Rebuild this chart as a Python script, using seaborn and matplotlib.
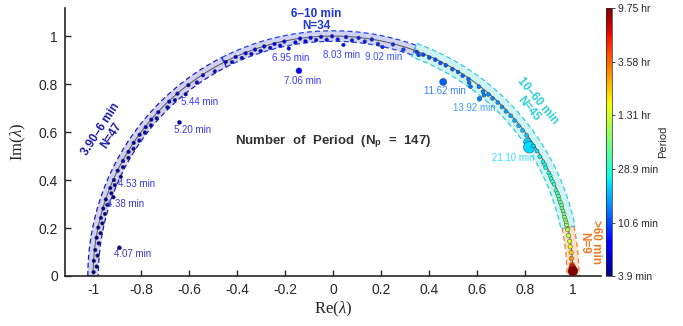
import numpy as np
import pandas as pd
import matplotlib
matplotlib.use("Agg")
import matplotlib.pyplot as plt
from matplotlib.colors import LogNorm
from matplotlib.cm import ScalarMappable
import seaborn as sns

# sampling step in minutes: angle of eigenvalue = 2*pi*dt/T
dt = 1.95

# periods (min) and |lambda|, one pair of lists per group
g1_period = [3.92, 3.95, 3.98, 4.01, 4.04, 4.07, 4.08, 4.11, 4.14, 4.17,
             4.20, 4.23, 4.26, 4.29, 4.32, 4.35, 4.38, 4.40, 4.43, 4.46,
             4.49, 4.53, 4.56, 4.60, 4.64, 4.68, 4.72, 4.76, 4.80, 4.84,
             4.88, 4.92, 4.96, 5.00, 5.04, 5.08, 5.13, 5.20, 5.22, 5.27,
             5.32, 5.38, 5.44, 5.52, 5.61, 5.71, 5.85]
g1_mag = [0.998, 0.986, 0.999, 0.985, 0.997, 0.898, 0.986, 0.998, 0.985, 0.999,
          0.986, 0.997, 0.985, 0.998, 0.986, 0.999, 0.972, 0.986, 0.998, 0.985,
          0.997, 0.976, 0.999, 0.986, 0.998, 0.985, 0.997, 0.986, 0.999, 0.985,
          0.998, 0.986, 0.997, 0.985, 0.999, 0.986, 0.998, 0.905, 0.985, 0.997,
          0.986, 0.999, 0.975, 0.998, 0.986, 0.997, 0.985]

g2_period = [6.02, 6.09, 6.16, 6.23, 6.30, 6.37, 6.44, 6.51, 6.58, 6.66,
             6.74, 6.82, 6.90, 6.95, 7.06, 7.08, 7.17, 7.26, 7.36, 7.46,
             7.56, 7.67, 7.78, 7.90, 8.03, 8.08, 8.22, 8.37, 8.53, 8.70,
             8.88, 9.02, 9.30, 9.65]
g2_mag = [0.998, 0.986, 0.999, 0.985, 0.997, 0.986, 0.998, 0.985, 0.999, 0.986,
          0.997, 0.985, 0.998, 0.966, 0.867, 0.986, 0.999, 0.985, 0.997, 0.986,
          0.998, 0.985, 0.999, 0.986, 0.964, 0.997, 0.985, 0.998, 0.986, 0.999,
          0.985, 0.976, 0.997, 0.988]

g3_period = [10.1, 10.2, 10.35, 10.6, 10.85, 11.1, 11.35, 11.62, 11.7, 12.0,
             12.3, 12.65, 12.8, 13.0, 13.4, 13.92, 13.8, 14.0, 14.2, 14.6,
             15.1, 15.6, 16.1, 16.7, 17.3, 18.0, 18.7, 19.5, 20.3, 21.1,
             21.3, 22.3, 23.4, 24.6, 25.3, 26.0, 27.5, 28.3, 29.2, 30.2,
             31.2, 33.4, 34.7, 36.0, 37.5, 39.0, 40.7, 42.5, 44.5, 46.8,
             49.3, 52.0, 54.5, 57.0]
g3_mag = [0.997, 0.988, 0.996, 0.995, 0.997, 0.994, 0.996, 0.930, 0.995, 0.997,
          0.994, 0.996, 0.985, 0.975, 0.996, 0.958, 0.990, 0.982, 0.996, 0.995,
          0.997, 0.996, 0.995, 0.997, 0.996, 0.995, 0.996, 0.997, 0.985, 0.978,
          0.996, 0.997, 0.995, 0.996, 0.997, 0.995, 0.996, 0.997, 0.995, 0.996,
          0.997, 0.995, 0.996, 0.997, 0.995, 0.996, 0.997, 0.995, 0.996, 0.997,
          0.995, 0.996, 0.997, 0.996]

g4_period = [63, 72, 84, 100, 125, 167, 250, 340, 585]
g4_mag = [0.997, 0.996, 0.997, 0.996, 0.997, 0.996, 0.997, 0.998, 1.0]

group_names = ['3.90–6 min', '6–10 min', '10–60 min', '>60 min']
group_counts = [47, 34, 45, 9]
group_edges = [3.9, 6, 10, 60, np.inf]
n_periods = 147

labelled = [4.07, 4.38, 4.53, 5.20, 5.44, 6.95, 7.06, 8.03, 9.02, 11.62, 13.92, 21.10]

cbar_ticks = [3.9, 10.6, 28.9, 78.6, 214.8, 585]
cbar_labels = ['3.9 min', '10.6 min', '28.9 min', '1.31 hr', '3.58 hr', '9.75 hr']
x_ticks = [-1, -0.8, -0.6, -0.4, -0.2, 0, 0.2, 0.4, 0.6, 0.8, 1]
x_ticklabels = ['-1', '-0.8', '-0.6', '-0.4', '-0.2', '0', '0.2', '0.4', '0.6', '0.8', '1']
y_ticks = [0, 0.2, 0.4, 0.6, 0.8, 1]
y_ticklabels = ['0', '0.2', '0.4', '0.6', '0.8', '1']

# ---- build table ----
frames = []
for i, (p, m) in enumerate([(g1_period, g1_mag), (g2_period, g2_mag),
                            (g3_period, g3_mag), (g4_period, g4_mag)]):
    frames.append(pd.DataFrame({'period': p, 'mag': m, 'group': i}))
df = pd.concat(frames, ignore_index=True)
theta = 2 * np.pi * dt / df['period']
df['re'] = df['mag'] * np.cos(theta)
df['im'] = df['mag'] * np.sin(theta)

# marker sizes (bigger ones stand out in the original)
big = {7.06: 18, 11.62: 26, 13.92: 12, 21.1: 70, 20.3: 30, 340: 24, 585: 50,
       4.07: 9, 5.20: 9}
base_size = [7, 7, 8, 10]
df['size'] = [big.get(round(p, 2), base_size[g]) for p, g in zip(df['period'], df['group'])]

norm = LogNorm(vmin=3.9, vmax=585)
cmap = plt.get_cmap('jet')

sns.set_style('ticks')
plt.rcParams['font.family'] = ['Liberation Sans', 'DejaVu Sans']
plt.rcParams['mathtext.fontset'] = 'custom'
plt.rcParams['mathtext.rm'] = 'Liberation Serif'
plt.rcParams['mathtext.it'] = 'Liberation Serif:italic'
plt.rcParams['mathtext.bf'] = 'Liberation Sans:bold'

fig = plt.figure(figsize=(6.83, 3.26), dpi=100)
ax = fig.add_axes([0.0952, 0.1534, 0.7848, 0.8221])

# bands around the unit circle for each group
band_fill = ['#d0d0f0', '#d0d2f4', '#cff3f3', '#fbe0cb']
band_edge = ['#1c1cae', '#2442e0', '#36cad8', '#ef8035']
band_half = [0.022, 0.022, 0.03, 0.025]
for i in range(4):
    t0 = 2 * np.pi * dt / group_edges[i]
    t1 = 2 * np.pi * dt / group_edges[i + 1]
    th = np.linspace(t0, t1, 200)
    r0, r1 = 1 - band_half[i], 1 + band_half[i]
    xs = np.r_[r1 * np.cos(th), r0 * np.cos(th[::-1]), r1 * np.cos(th[0])]
    ys = np.r_[r1 * np.sin(th), r0 * np.sin(th[::-1]), r1 * np.sin(th[0])]
    ax.fill(xs, ys, color=band_fill[i], lw=0, zorder=1)
    ax.plot(xs, ys, color=band_edge[i], lw=0.9, ls=(0, (4, 2.5)), zorder=2)

# unit circle
tc = np.linspace(0, np.pi, 400)
ax.plot(np.cos(tc), np.sin(tc), color='#555555', lw=0.7, zorder=2)

sns.scatterplot(data=df, x='re', y='im', hue='period', hue_norm=norm,
                palette=cmap, s=df['size'], edgecolor='#3a3a3a', linewidth=0.3,
                legend=False, ax=ax, zorder=3)

# labels on the off-circle periods
offsets = {4.07: (0.055, -0.025), 4.38: (0.05, -0.03), 4.53: (0.065, -0.03),
           5.20: (0.053, -0.03), 5.44: (0.058, -0.03), 6.95: (0.008, -0.038),
           7.06: (0.015, -0.043), 8.03: (-0.007, -0.043), 9.02: (0.006, -0.04),
           11.62: (0.006, -0.038), 13.92: (-0.02, -0.04), 21.10: (-0.068, -0.044)}
for p in labelled:
    row = df.loc[np.isclose(df['period'], p)].iloc[0]
    c = np.array(cmap(norm(p)))[:3]
    c = 0.78 * c + 0.22
    c[2] = min(1.0, c[2] + 0.12)
    dx, dy = offsets[p]
    ax.text(row['re'] + dx, row['im'] + dy, f'{p:.2f} min', color=c,
            fontsize=7, ha='center', va='center', zorder=4)

# group labels
ax.text(-0.945, 0.60, f'{group_names[0]}\nN={group_counts[0]}', color='#1a1aa6',
        fontsize=8.5, fontweight='bold', rotation=57, ha='center', va='center',
        linespacing=1.0, rotation_mode='anchor')
ax.text(-0.07, 1.068, f'{group_names[1]}\nN={group_counts[1]}', color='#1f35d8',
        fontsize=8.5, fontweight='bold', ha='center', va='center', linespacing=1.0)
ax.text(0.833, 0.712, f'{group_names[2]}\nN={group_counts[2]}', color='#2ccfd6',
        fontsize=8.5, fontweight='bold', rotation=-50, ha='center', va='center',
        linespacing=1.0, rotation_mode='anchor')
ax.text(1.071, 0.14, f'{group_names[3]}\nN={group_counts[3]}', color='#ee7a22',
        fontsize=8.5, fontweight='bold', rotation=-90, ha='center', va='center',
        linespacing=1.0, rotation_mode='anchor')

ax.text(0.0, 0.56, r'Number  of  Period  (N$_{\mathbf{p}}$  =  ' + f'{n_periods})',
        color='#333333', fontsize=9.5, fontweight='bold', ha='center', va='center')

ax.set_xlim(-1.117, 1.117)
ax.set_ylim(0, 1.117)
ax.set_xticks(x_ticks)
ax.set_xticklabels(x_ticklabels)
ax.set_yticks(y_ticks)
ax.set_yticklabels(y_ticklabels)
ax.tick_params(direction='in', length=4, width=1, labelsize=10,
               colors='#262626', pad=5)
for s in ['left', 'bottom']:
    ax.spines[s].set_linewidth(1.2)
    ax.spines[s].set_color('#262626')
sns.despine(ax=ax)
ax.set_xlabel(r'Re($\lambda$)', fontsize=12, family='Liberation Serif',
              color='#262626', labelpad=2)
ax.set_ylabel(r'Im($\lambda$)', fontsize=12, family='Liberation Serif',
              color='#262626', labelpad=8)

# colorbar
cax = fig.add_axes([0.8875, 0.1534, 0.0088, 0.8221])
cb = fig.colorbar(ScalarMappable(norm=norm, cmap=cmap), cax=cax)
cb.set_ticks(cbar_ticks)
cb.set_ticklabels(cbar_labels)
cb.minorticks_off()
cb.ax.tick_params(labelsize=7.5, length=2, width=0.6, colors='#262626', pad=2)
cb.outline.set_linewidth(0.5)
cb.set_label('Period', fontsize=8, color='#262626', labelpad=0)

fig.savefig('out.png', dpi=100)
